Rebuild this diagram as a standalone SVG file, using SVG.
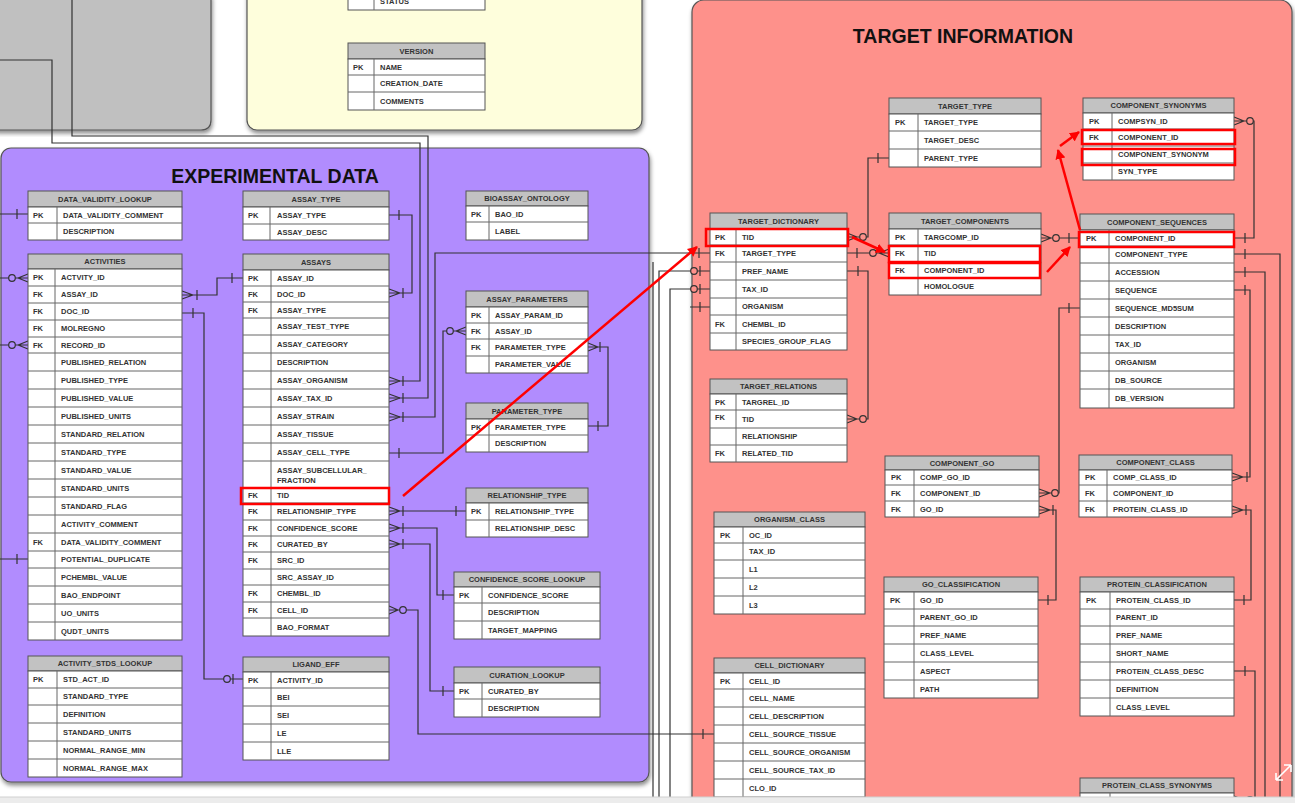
<svg xmlns="http://www.w3.org/2000/svg" width="1295" height="803" viewBox="0 0 1295 803">
<style>
text{font-family:"Liberation Sans",Arial,sans-serif;font-weight:bold;font-size:7.5px;fill:#333}
.ht{text-anchor:middle}
.ttl{font-size:19.5px;fill:#111;text-anchor:middle}
.hd{fill:#c2c2c2;stroke:#555;stroke-width:1}
.bd{fill:#fff;stroke:#555;stroke-width:1}
.rl{stroke:#666;stroke-width:1;fill:none}
.c{stroke:#333;stroke-width:1.2;fill:none}
.op{fill:#b18cfe;stroke:#333;stroke-width:1.2}
.or{fill:#fe918b;stroke:#333;stroke-width:1.2}
.red{stroke:#f00;stroke-width:2.5;fill:none}
.rb{stroke:#f00;stroke-width:2.5;fill:none}
.panel{stroke:#555;stroke-width:1.2}
</style>
<defs>
<filter id="sh" x="-5%" y="-5%" width="110%" height="110%"><feDropShadow dx="1" dy="3" stdDeviation="2" flood-color="#000" flood-opacity="0.45"/></filter>
<marker id="ah" viewBox="0 0 10 10" refX="9" refY="5" markerWidth="4" markerHeight="4" orient="auto"><path d="M0,0 L10,5 L0,10 Z" fill="#f00"/></marker>
</defs>
<rect width="1295" height="803" fill="#fff"/>

<g id="panels">
<path class="panel" filter="url(#sh)" d="M-5,-5 H211 V120 Q211,130 201,130 H-5 Z" fill="#c0c0c0"/>
<rect class="panel" filter="url(#sh)" x="247" y="-20" width="395" height="150" rx="10" fill="#fefedc"/>
<rect class="panel" filter="url(#sh)" x="1" y="148" width="648" height="634" rx="10" fill="#b18cfe"/>
<rect class="panel" filter="url(#sh)" x="692" y="0" width="600" height="840" rx="12" fill="#fe918b"/>
<text class="ttl" x="275" y="183">EXPERIMENTAL DATA</text>
<text class="ttl" x="963" y="43">TARGET INFORMATION</text>
</g>

<g id="connectors">
<!-- gray panel lines / long connectors -->
<path class="c" d="M389,381 H420 V143 H52 V60 H0"/>
<path class="c" d="M389,398 H428 V136 H72 V0"/>
<path class="c" d="M389,417 H435 V253 H710"/>
<path class="c" d="M699,248 V258"/>
<path class="c" d="M400,381 L389,377 M400,381 L389,385 M403,376 V386"/>
<path class="c" d="M400,398 L389,394 M400,398 L389,402 M403,393 V403"/>
<path class="c" d="M400,417 L389,413 M400,417 L389,421 M403,412 V422"/>
<!-- DVL -->
<path class="c" d="M0,214 H28 M17,209 V219"/>
<!-- activities left -->
<path class="c" d="M0,278 H28 M18,278 L28,274 M18,278 L28,282"/>
<circle class="op" cx="12" cy="278" r="3.3"/>
<path class="c" d="M0,345 H28 M18,345 L28,341 M18,345 L28,349"/>
<circle class="op" cx="12" cy="345" r="3.3"/>
<path class="c" d="M0,559 H28 M17,554 V564"/>
<!-- activities -> assays -->
<path class="c" d="M182,295 H217 V278 H243 M193,295 L182,291 M193,295 L182,299 M197,290 V300 M232,273 V283"/>
<!-- activities -> ligand_eff -->
<path class="c" d="M182,313 H204 V679 H243 M193,308 V318 M233,674 V684"/>
<circle class="op" cx="227" cy="679" r="3.3"/>
<!-- assay_type -> assays -->
<path class="c" d="M389,215 H412 V293 H389 M399,210 V220 M400,293 L389,289 M400,293 L389,297 M403,288 V298"/>
<!-- cell type -> assay params -->
<path class="c" d="M389,453 H443 V331 H466 M399,448 V458 M456,331 L466,327 M456,331 L466,335"/>
<circle class="op" cx="450" cy="331" r="3.3"/>
<!-- param type -->
<path class="c" d="M588,347 H608 V426 H588 M598,347 L588,343 M598,347 L588,351 M600,342 V352 M598,421 V431"/>
<!-- relationship type -->
<path class="c" d="M389,511 H466 M400,511 L389,507 M400,511 L389,515 M403,506 V516 M456,506 V516"/>
<!-- confidence -->
<path class="c" d="M389,528 H437 V595 H454 M400,528 L389,524 M400,528 L389,532 M403,523 V533 M443,590 V600"/>
<!-- curated by -->
<path class="c" d="M389,544 H430 V691 H454 M400,544 L389,540 M400,544 L389,548 M403,539 V549 M443,686 V696"/>
<!-- cell id -> cell dictionary -->
<path class="c" d="M389,610 H418 V734 H714 M398,610 L389,606 M398,610 L389,614 M703,729 V739"/>
<circle class="op" cx="403" cy="610" r="3.3"/>
<!-- target side left verticals -->
<path class="c" d="M710,271 H659 V803 M700,266 V276"/>
<circle class="or" cx="694" cy="271" r="3.3"/>
<path class="c" d="M710,289 H670 V803 M700,284 V294"/>
<circle class="or" cx="694" cy="289" r="3.3"/>
<path class="c" d="M690,307 H710 M700,302 V312"/>
<path class="c" d="M653,262 V803"/>
<!-- target type -> TD -->
<path class="c" d="M889,158 H868 V237 H847 M878,153 V163 M857,237 L847,233 M857,237 L847,241"/>
<circle class="or" cx="863" cy="237" r="3.3"/>
<!-- TD target_type -> TC TID -->
<path class="c" d="M847,253 H889 M857,248 V258 M879,253 L889,249 M879,253 L889,257"/>
<circle class="or" cx="873" cy="253" r="3.3"/>
<!-- TD pref_name -> TR TID -->
<path class="c" d="M847,271 H868 V419 H847 M858,266 V276 M857,419 L847,415 M857,419 L847,423"/>
<circle class="or" cx="863" cy="419" r="3.3"/>
<!-- TC -> CS -->
<path class="c" d="M1041,238 H1080 M1051,238 L1041,234 M1051,238 L1041,242 M1069,233 V243"/>
<circle class="or" cx="1056" cy="238" r="3.3"/>
<!-- CSyn -> CS -->
<path class="c" d="M1234,121 H1254 V238 H1234 M1244,121 L1234,117 M1244,121 L1234,125 M1245,233 V243"/>
<circle class="or" cx="1250" cy="121" r="3.3"/>
<!-- CS right -->
<path class="c" d="M1234,254 H1280 V803 M1245,249 V259"/>
<path class="c" d="M1234,272 H1265 V803 M1245,267 V277"/>
<path class="c" d="M1234,290 H1250 V477 H1232 M1245,285 V295 M1243,477 L1232,473 M1243,477 L1232,481 M1247,472 V482"/>
<!-- CS md5 -> CGO -->
<path class="c" d="M1080,308 H1059 V493 H1039 M1069,303 V313 M1050,493 L1039,489 M1050,493 L1039,497"/>
<circle class="or" cx="1055" cy="493" r="3.3"/>
<!-- CGO go_id -> GO class -->
<path class="c" d="M1039,510 H1056 V600 H1038 M1050,510 L1039,506 M1050,510 L1039,514 M1053,505 V515 M1048,595 V605"/>
<!-- CC -> PC -->
<path class="c" d="M1232,510 H1251 V600 H1234 M1243,510 L1232,506 M1243,510 L1232,514 M1246,505 V515 M1244,595 V605"/>
<!-- PC desc -> PCS -->
<path class="c" d="M1234,671 H1255 V800 H1234 M1245,666 V676 M1244,800 L1234,796 M1244,800 L1234,804"/>
<circle class="or" cx="1250" cy="800" r="3.3"/>
</g>

<g id="t-version">
<rect class="bd" x="348" y="-10" width="137" height="20"/><path class="rl" d="M374,-10 V10"/><text x="380" y="4">STATUS</text>
<rect class="hd" x="348" y="43" width="137" height="16"/><text class="ht" x="416.5" y="53.7">VERSION</text>
<rect class="bd" x="348" y="59" width="137" height="51"/><path class="rl" d="M348,75 H485 M348,92 H485 M374,59 V110"/>
<text x="353" y="69.7">PK</text><text x="380" y="69.7">NAME</text><text x="380" y="86.2">CREATION_DATE</text><text x="380" y="103.7">COMMENTS</text>
</g>

<g id="t-data-validity-lookup">
<rect class="hd" x="28" y="191" width="154" height="16"/><text class="ht" x="105" y="201.7">DATA_VALIDITY_LOOKUP</text>
<rect class="bd" x="28" y="207" width="154" height="33"/><path class="rl" d="M28,223 H182 M57,207 V240"/>
<text x="33" y="217.7">PK</text><text x="63" y="217.7">DATA_VALIDITY_COMMENT</text><text x="63" y="234.2">DESCRIPTION</text>
</g>

<g id="t-activities">
<rect class="hd" x="28" y="254" width="154" height="15"/><text class="ht" x="105" y="264.2">ACTIVITIES</text>
<rect class="bd" x="28" y="269" width="154" height="371"/>
<path class="rl" d="M28,286 H182 M28,303 H182 M28,320 H182 M28,337 H182 M28,353 H182 M28,371 H182 M28,389 H182 M28,407 H182 M28,425 H182 M28,443 H182 M28,461 H182 M28,479 H182 M28,497 H182 M28,515 H182 M28,533 H182 M28,551 H182 M28,568 H182 M28,586 H182 M28,604 H182 M28,622 H182 M55,269 V640"/>
<text x="33" y="280.2">PK</text><text x="61" y="280.2">ACTVITY_ID</text>
<text x="33" y="297.2">FK</text><text x="61" y="297.2">ASSAY_ID</text>
<text x="33" y="314.2">FK</text><text x="61" y="314.2">DOC_ID</text>
<text x="33" y="331.2">FK</text><text x="61" y="331.2">MOLREGNO</text>
<text x="33" y="347.7">FK</text><text x="61" y="347.7">RECORD_ID</text>
<text x="61" y="364.7">PUBLISHED_RELATION</text>
<text x="61" y="382.7">PUBLISHED_TYPE</text>
<text x="61" y="400.7">PUBLISHED_VALUE</text>
<text x="61" y="418.7">PUBLISHED_UNITS</text>
<text x="61" y="436.7">STANDARD_RELATION</text>
<text x="61" y="454.7">STANDARD_TYPE</text>
<text x="61" y="472.7">STANDARD_VALUE</text>
<text x="61" y="490.7">STANDARD_UNITS</text>
<text x="61" y="508.7">STANDARD_FLAG</text>
<text x="61" y="526.7">ACTIVITY_COMMENT</text>
<text x="33" y="544.7">FK</text><text x="61" y="544.7">DATA_VALIDITY_COMMENT</text>
<text x="61" y="562.2">POTENTIAL_DUPLICATE</text>
<text x="61" y="579.7">PCHEMBL_VALUE</text>
<text x="61" y="597.7">BAO_ENDPOINT</text>
<text x="61" y="615.7">UO_UNITS</text>
<text x="61" y="633.7">QUDT_UNITS</text>
</g>

<g id="t-activity-stds-lookup">
<rect class="hd" x="28" y="656" width="154" height="15"/><text class="ht" x="105" y="666.2">ACTIVITY_STDS_LOOKUP</text>
<rect class="bd" x="28" y="671" width="154" height="106"/>
<path class="rl" d="M28,688 H182 M28,705 H182 M28,723 H182 M28,741 H182 M28,759 H182 M57,671 V777"/>
<text x="33" y="682.2">PK</text><text x="63" y="682.2">STD_ACT_ID</text>
<text x="63" y="699.2">STANDARD_TYPE</text><text x="63" y="716.7">DEFINITION</text><text x="63" y="734.7">STANDARD_UNITS</text><text x="63" y="752.7">NORMAL_RANGE_MIN</text><text x="63" y="770.7">NORMAL_RANGE_MAX</text>
</g>

<g id="t-assay-type">
<rect class="hd" x="243" y="191" width="146" height="16"/><text class="ht" x="316" y="201.7">ASSAY_TYPE</text>
<rect class="bd" x="243" y="207" width="146" height="33"/><path class="rl" d="M243,224 H389 M270,207 V240"/>
<text x="248" y="218.2">PK</text><text x="277" y="218.2">ASSAY_TYPE</text><text x="277" y="234.7">ASSAY_DESC</text>
</g>

<g id="t-assays">
<rect class="hd" x="243" y="254" width="146" height="16"/><text class="ht" x="316" y="264.7">ASSAYS</text>
<rect class="bd" x="243" y="270" width="146" height="366"/>
<path class="rl" d="M243,286 H389 M243,302 H389 M243,318 H389 M243,335 H389 M243,353 H389 M243,371 H389 M243,389 H389 M243,407 H389 M243,425 H389 M243,443 H389 M243,461 H389 M243,488 H389 M243,503 H389 M243,520 H389 M243,536 H389 M243,552 H389 M243,569 H389 M243,585 H389 M243,602 H389 M243,618 H389 M271,270 V636"/>
<text x="248" y="280.7">PK</text><text x="277" y="280.7">ASSAY_ID</text>
<text x="248" y="296.7">FK</text><text x="277" y="296.7">DOC_ID</text>
<text x="248" y="312.7">FK</text><text x="277" y="312.7">ASSAY_TYPE</text>
<text x="277" y="329.2">ASSAY_TEST_TYPE</text>
<text x="277" y="346.7">ASSAY_CATEGORY</text>
<text x="277" y="364.7">DESCRIPTION</text>
<text x="277" y="382.7">ASSAY_ORGANISM</text>
<text x="277" y="400.7">ASSAY_TAX_ID</text>
<text x="277" y="418.7">ASSAY_STRAIN</text>
<text x="277" y="436.7">ASSAY_TISSUE</text>
<text x="277" y="454.7">ASSAY_CELL_TYPE</text>
<text x="277" y="472.7">ASSAY_SUBCELLULAR_</text><text x="277" y="482.7">FRACTION</text>
<text x="248" y="498.2">FK</text><text x="277" y="498.2">TID</text>
<text x="248" y="514.2">FK</text><text x="277" y="514.2">RELATIONSHIP_TYPE</text>
<text x="248" y="530.7">FK</text><text x="277" y="530.7">CONFIDENCE_SCORE</text>
<text x="248" y="546.7">FK</text><text x="277" y="546.7">CURATED_BY</text>
<text x="248" y="563.2">FK</text><text x="277" y="563.2">SRC_ID</text>
<text x="277" y="579.7">SRC_ASSAY_ID</text>
<text x="248" y="596.2">FK</text><text x="277" y="596.2">CHEMBL_ID</text>
<text x="248" y="612.7">FK</text><text x="277" y="612.7">CELL_ID</text>
<text x="277" y="629.7">BAO_FORMAT</text>
<rect class="rb" x="241" y="488" width="148" height="16"/>
</g>

<g id="t-ligand-eff">
<rect class="hd" x="243" y="657" width="146" height="15"/><text class="ht" x="316" y="667.2">LIGAND_EFF</text>
<rect class="bd" x="243" y="672" width="146" height="88"/>
<path class="rl" d="M243,688 H389 M243,706 H389 M243,724 H389 M243,742 H389 M271,672 V760"/>
<text x="248" y="682.7">PK</text><text x="277" y="682.7">ACTIVITY_ID</text>
<text x="277" y="699.7">BEI</text><text x="277" y="717.7">SEI</text><text x="277" y="735.7">LE</text><text x="277" y="753.7">LLE</text>
</g>

<g id="t-bioassay-ontology">
<rect class="hd" x="466" y="191" width="122" height="15"/><text class="ht" x="527" y="201.2">BIOASSAY_ONTOLOGY</text>
<rect class="bd" x="466" y="206" width="122" height="34"/><path class="rl" d="M466,222 H588 M489,206 V240"/>
<text x="471" y="216.7">PK</text><text x="495" y="216.7">BAO_ID</text><text x="495" y="233.7">LABEL</text>
</g>

<g id="t-assay-parameters">
<rect class="hd" x="466" y="291" width="122" height="16"/><text class="ht" x="527" y="301.7">ASSAY_PARAMETERS</text>
<rect class="bd" x="466" y="307" width="122" height="66"/><path class="rl" d="M466,323 H588 M466,339 H588 M466,356 H588 M489,307 V373"/>
<text x="471" y="317.7">PK</text><text x="495" y="317.7">ASSAY_PARAM_ID</text>
<text x="471" y="333.7">FK</text><text x="495" y="333.7">ASSAY_ID</text>
<text x="471" y="350.2">FK</text><text x="495" y="350.2">PARAMETER_TYPE</text>
<text x="495" y="367.2">PARAMETER_VALUE</text>
</g>

<g id="t-parameter-type">
<rect class="hd" x="466" y="403" width="122" height="16"/><text class="ht" x="527" y="413.7">PARAMETER_TYPE</text>
<rect class="bd" x="466" y="419" width="122" height="33"/><path class="rl" d="M466,435 H588 M489,419 V452"/>
<text x="471" y="429.7">PK</text><text x="495" y="429.7">PARAMETER_TYPE</text><text x="495" y="446.2">DESCRIPTION</text>
</g>

<g id="t-relationship-type">
<rect class="hd" x="466" y="488" width="122" height="15"/><text class="ht" x="527" y="498.2">RELATIONSHIP_TYPE</text>
<rect class="bd" x="466" y="503" width="122" height="34"/><path class="rl" d="M466,520 H588 M489,503 V537"/>
<text x="471" y="514.2">PK</text><text x="495" y="514.2">RELATIONSHIP_TYPE</text><text x="495" y="531.2">RELATIONSHIP_DESC</text>
</g>

<g id="t-confidence-score-lookup">
<rect class="hd" x="454" y="572" width="146" height="15"/><text class="ht" x="527" y="582.2">CONFIDENCE_SCORE_LOOKUP</text>
<rect class="bd" x="454" y="587" width="146" height="52"/><path class="rl" d="M454,603 H600 M454,621 H600 M482,587 V639"/>
<text x="459" y="597.7">PK</text><text x="488" y="597.7">CONFIDENCE_SCORE</text><text x="488" y="614.7">DESCRIPTION</text><text x="488" y="632.7">TARGET_MAPPING</text>
</g>

<g id="t-curation-lookup">
<rect class="hd" x="454" y="667" width="146" height="16"/><text class="ht" x="527" y="677.7">CURATION_LOOKUP</text>
<rect class="bd" x="454" y="683" width="146" height="34"/><path class="rl" d="M454,699 H600 M482,683 V717"/>
<text x="459" y="693.7">PK</text><text x="488" y="693.7">CURATED_BY</text><text x="488" y="710.7">DESCRIPTION</text>
</g>

<g id="t-target-type">
<rect class="hd" x="889" y="98" width="152" height="16"/><text class="ht" x="965" y="108.7">TARGET_TYPE</text>
<rect class="bd" x="889" y="114" width="152" height="53"/><path class="rl" d="M889,131 H1041 M889,149 H1041 M918,114 V167"/>
<text x="895" y="125.2">PK</text><text x="924" y="125.2">TARGET_TYPE</text><text x="924" y="142.7">TARGET_DESC</text><text x="924" y="160.7">PARENT_TYPE</text>
</g>

<g id="t-target-dictionary">
<rect class="hd" x="710" y="213" width="137" height="16"/><text class="ht" x="778.5" y="223.7">TARGET_DICTIONARY</text>
<rect class="bd" x="710" y="229" width="137" height="121"/>
<path class="rl" d="M710,245 H847 M710,262 H847 M710,280 H847 M710,298 H847 M710,315 H847 M710,333 H847 M736,229 V350"/>
<text x="715" y="239.7">PK</text><text x="742" y="239.7">TID</text>
<text x="715" y="256.2">FK</text><text x="742" y="256.2">TARGET_TYPE</text>
<text x="742" y="273.7">PREF_NAME</text><text x="742" y="291.7">TAX_ID</text><text x="742" y="309.2">ORGANISM</text>
<text x="715" y="326.7">FK</text><text x="742" y="326.7">CHEMBL_ID</text>
<text x="742" y="344.2">SPECIES_GROUP_FLAG</text>
<rect class="rb" x="706" y="229" width="142" height="17"/>
</g>

<g id="t-target-relations">
<rect class="hd" x="710" y="379" width="137" height="15"/><text class="ht" x="778.5" y="389.2">TARGET_RELATIONS</text>
<rect class="bd" x="710" y="394" width="137" height="68"/><path class="rl" d="M710,410 H847 M710,428 H847 M710,445 H847 M736,394 V462"/>
<text x="715" y="404.7">PK</text><text x="742" y="404.7">TARGREL_ID</text>
<text x="715" y="420.2">FK</text><text x="742" y="421.7">TID</text>
<text x="742" y="439.2">RELATIONSHIP</text>
<text x="715" y="456.2">FK</text><text x="742" y="456.2">RELATED_TID</text>
</g>

<g id="t-target-components">
<rect class="hd" x="889" y="213" width="152" height="16"/><text class="ht" x="965" y="223.7">TARGET_COMPONENTS</text>
<rect class="bd" x="889" y="229" width="152" height="66"/><path class="rl" d="M889,245 H1041 M889,262 H1041 M889,278 H1041 M918,229 V295"/>
<text x="895" y="239.7">PK</text><text x="924" y="239.7">TARGCOMP_ID</text>
<text x="895" y="256.2">FK</text><text x="924" y="256.2">TID</text>
<text x="895" y="272.7">FK</text><text x="924" y="272.7">COMPONENT_ID</text>
<text x="924" y="289.2">HOMOLOGUE</text>
<rect class="rb" x="889" y="246" width="151" height="16"/>
<rect class="rb" x="889" y="263" width="151" height="15"/>
</g>

<g id="t-component-synonyms">
<rect class="hd" x="1083" y="98" width="151" height="15"/><text class="ht" x="1158.5" y="108.2">COMPONENT_SYNONYMS</text>
<rect class="bd" x="1083" y="113" width="151" height="67"/><path class="rl" d="M1083,129 H1234 M1083,146 H1234 M1083,163 H1234 M1112,113 V180"/>
<text x="1089" y="123.7">PK</text><text x="1118" y="123.7">COMPSYN_ID</text>
<text x="1089" y="140.2">FK</text><text x="1118" y="140.2">COMPONENT_ID</text>
<text x="1118" y="157.2">COMPONENT_SYNONYM</text>
<text x="1118" y="174.2">SYN_TYPE</text>
<rect class="rb" x="1082" y="130" width="153" height="14"/>
<rect class="rb" x="1082" y="149" width="153" height="16"/>
</g>

<g id="t-component-sequences">
<rect class="hd" x="1080" y="214" width="154" height="16"/><text class="ht" x="1157" y="224.7">COMPONENT_SEQUENCES</text>
<rect class="bd" x="1080" y="230" width="154" height="178"/>
<path class="rl" d="M1080,246 H1234 M1080,263 H1234 M1080,281 H1234 M1080,299 H1234 M1080,317 H1234 M1080,335 H1234 M1080,353 H1234 M1080,371 H1234 M1080,389 H1234 M1109,230 V408"/>
<text x="1086" y="240.7">PK</text><text x="1115" y="240.7">COMPONENT_ID</text>
<text x="1115" y="257.2">COMPONENT_TYPE</text><text x="1115" y="274.7">ACCESSION</text><text x="1115" y="292.7">SEQUENCE</text><text x="1115" y="310.7">SEQUENCE_MD5SUM</text><text x="1115" y="328.7">DESCRIPTION</text><text x="1115" y="346.7">TAX_ID</text><text x="1115" y="364.7">ORGANISM</text><text x="1115" y="382.7">DB_SOURCE</text><text x="1115" y="401.2">DB_VERSION</text>
<rect class="rb" x="1079" y="232" width="155" height="15"/>
</g>

<g id="t-component-go">
<rect class="hd" x="885" y="456" width="154" height="14"/><text class="ht" x="962" y="465.7">COMPONENT_GO</text>
<rect class="bd" x="885" y="470" width="154" height="47"/><path class="rl" d="M885,485 H1039 M885,501 H1039 M914,470 V517"/>
<text x="891" y="480.2">PK</text><text x="920" y="480.2">COMP_GO_ID</text>
<text x="891" y="495.7">FK</text><text x="920" y="495.7">COMPONENT_ID</text>
<text x="891" y="511.7">FK</text><text x="920" y="511.7">GO_ID</text>
</g>

<g id="t-component-class">
<rect class="hd" x="1079" y="455" width="153" height="15"/><text class="ht" x="1155.5" y="465.2">COMPONENT_CLASS</text>
<rect class="bd" x="1079" y="470" width="153" height="47"/><path class="rl" d="M1079,485 H1232 M1079,501 H1232 M1107,470 V517"/>
<text x="1085" y="480.2">PK</text><text x="1113" y="480.2">COMP_CLASS_ID</text>
<text x="1085" y="495.7">FK</text><text x="1113" y="495.7">COMPONENT_ID</text>
<text x="1085" y="511.7">FK</text><text x="1113" y="511.7">PROTEIN_CLASS_ID</text>
</g>

<g id="t-organism-class">
<rect class="hd" x="714" y="512" width="151" height="15"/><text class="ht" x="789.5" y="522.2">ORGANISM_CLASS</text>
<rect class="bd" x="714" y="527" width="151" height="87"/><path class="rl" d="M714,543 H865 M714,560 H865 M714,578 H865 M714,596 H865 M743,527 V614"/>
<text x="720" y="537.7">PK</text><text x="749" y="537.7">OC_ID</text>
<text x="749" y="554.2">TAX_ID</text><text x="749" y="571.7">L1</text><text x="749" y="589.7">L2</text><text x="749" y="607.7">L3</text>
</g>

<g id="t-go-classification">
<rect class="hd" x="884" y="577" width="154" height="15"/><text class="ht" x="961" y="587.2">GO_CLASSIFICATION</text>
<rect class="bd" x="884" y="592" width="154" height="106"/><path class="rl" d="M884,609 H1038 M884,626 H1038 M884,644 H1038 M884,662 H1038 M884,680 H1038 M914,592 V698"/>
<text x="890" y="603.2">PK</text><text x="920" y="603.2">GO_ID</text>
<text x="920" y="620.2">PARENT_GO_ID</text><text x="920" y="637.7">PREF_NAME</text><text x="920" y="655.7">CLASS_LEVEL</text><text x="920" y="673.7">ASPECT</text><text x="920" y="691.7">PATH</text>
</g>

<g id="t-protein-classification">
<rect class="hd" x="1080" y="577" width="154" height="15"/><text class="ht" x="1157" y="587.2">PROTEIN_CLASSIFICATION</text>
<rect class="bd" x="1080" y="592" width="154" height="124"/><path class="rl" d="M1080,609 H1234 M1080,626 H1234 M1080,644 H1234 M1080,662 H1234 M1080,680 H1234 M1080,698 H1234 M1110,592 V716"/>
<text x="1086" y="603.2">PK</text><text x="1116" y="603.2">PROTEIN_CLASS_ID</text>
<text x="1116" y="620.2">PARENT_ID</text><text x="1116" y="637.7">PREF_NAME</text><text x="1116" y="655.7">SHORT_NAME</text><text x="1116" y="673.7">PROTEIN_CLASS_DESC</text><text x="1116" y="691.7">DEFINITION</text><text x="1116" y="709.7">CLASS_LEVEL</text>
</g>

<g id="t-protein-class-synonyms">
<rect class="hd" x="1080" y="778" width="154" height="15"/><text class="ht" x="1157" y="788.2">PROTEIN_CLASS_SYNONYMS</text>
<rect class="bd" x="1080" y="793" width="154" height="18"/><path class="rl" d="M1110,793 V811"/>
<text x="1086" y="804">PK</text><text x="1116" y="804">PROTCLASSSYN_ID</text>
</g>

<g id="t-cell-dictionary">
<rect class="hd" x="714" y="658" width="151" height="15"/><text class="ht" x="789.5" y="668.2">CELL_DICTIONARY</text>
<rect class="bd" x="714" y="673" width="151" height="142"/><path class="rl" d="M714,689 H865 M714,707 H865 M714,725 H865 M714,743 H865 M714,761 H865 M714,779 H865 M714,797 H865 M743,673 V815"/>
<text x="720" y="683.7">PK</text><text x="749" y="683.7">CELL_ID</text>
<text x="749" y="700.7">CELL_NAME</text><text x="749" y="718.7">CELL_DESCRIPTION</text><text x="749" y="736.7">CELL_SOURCE_TISSUE</text><text x="749" y="754.7">CELL_SOURCE_ORGANISM</text><text x="749" y="772.7">CELL_SOURCE_TAX_ID</text><text x="749" y="790.7">CLO_ID</text>
</g>

<g id="red-arrows">
<path class="red" marker-end="url(#ah)" d="M403,496 L697,247"/>
<path class="red" marker-end="url(#ah)" d="M852,237 L885,252"/>
<path class="red" marker-end="url(#ah)" d="M1047,272 L1070,247"/>
<path class="red" marker-end="url(#ah)" d="M1080,230 L1058,150"/>
<path class="red" marker-end="url(#ah)" d="M1060,146 L1079,132"/>
</g>

<g id="chrome">
<rect x="0" y="797" width="1295" height="6" fill="#ececec"/>
<path d="M0,797 H1295" stroke="#d0d0d0" stroke-width="1"/>
<path d="M1276,780 L1291,765 M1276,780 V773 M1276,780 H1283 M1291,765 V772 M1291,765 H1284" stroke="#fff" stroke-width="1.6" fill="none"/>
</g>
</svg>
